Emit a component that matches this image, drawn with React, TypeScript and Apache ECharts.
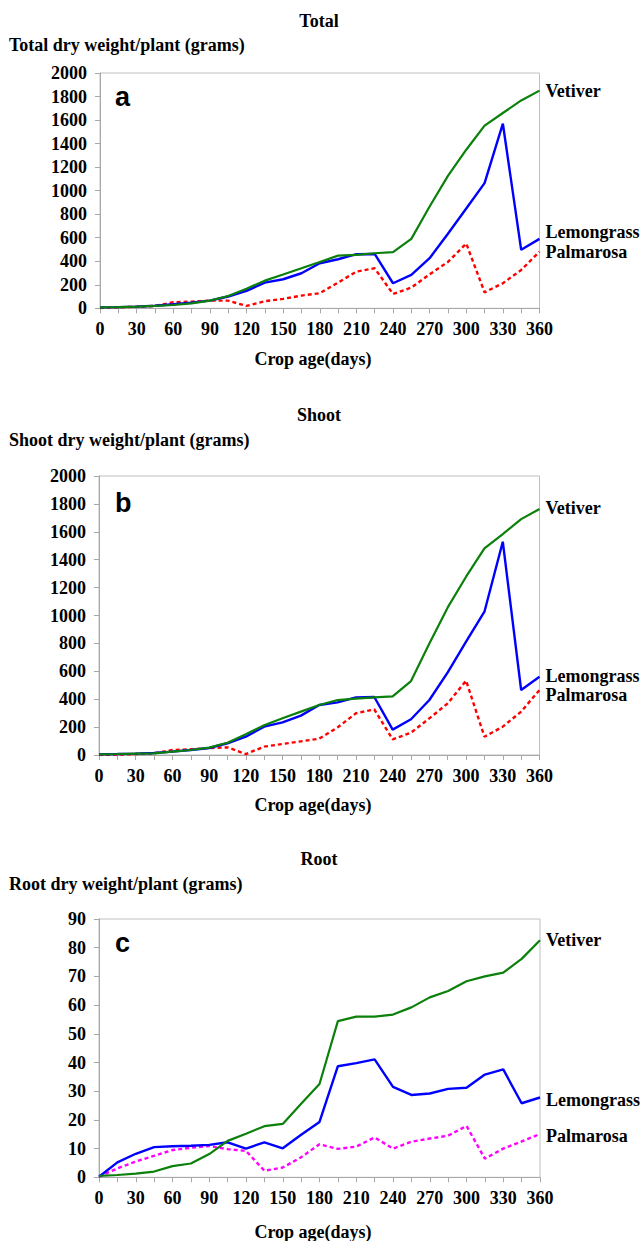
import React, { useEffect, useRef } from "react";
import * as echarts from "echarts";

const days = [0, 15, 30, 45, 60, 75, 90, 105, 120, 135, 150, 165, 180, 195, 210, 225, 240, 255, 270, 285, 300, 315, 330, 345, 360];

const totalVetiver = [8, 10, 14, 20, 28, 42, 65, 105, 167, 235, 287, 340, 394, 448, 454, 468, 477, 590, 865, 1126, 1348, 1552, 1660, 1767, 1850];
const totalLemongrass = [8, 10, 14, 22, 34, 48, 65, 100, 148, 218, 247, 298, 383, 417, 460, 462, 213, 284, 426, 633, 848, 1064, 1569, 497, 590];
const totalPalmarosa = [3, 8, 14, 20, 51, 57, 65, 65, 20, 60, 80, 108, 128, 218, 312, 340, 122, 176, 289, 394, 550, 136, 213, 326, 482];

const shootVetiver = [5, 7, 10, 12, 24, 36, 53, 88, 148, 213, 263, 311, 358, 394, 404, 413, 420, 530, 800, 1058, 1278, 1481, 1584, 1691, 1763];
const shootLemongrass = [5, 7, 10, 14, 24, 36, 50, 84, 131, 203, 234, 282, 358, 377, 413, 416, 182, 256, 394, 592, 812, 1027, 1529, 466, 561];
const shootPalmarosa = [0, 2, 7, 12, 36, 41, 50, 55, 7, 60, 79, 98, 117, 198, 299, 327, 112, 160, 263, 370, 533, 131, 203, 311, 466];

const rootVetiver = [0.5, 0.8, 1.3, 2.0, 3.9, 4.8, 8.1, 12.7, 15.2, 17.8, 18.6, 25.6, 32.5, 54.4, 56.0, 56.0, 56.7, 59.2, 62.7, 64.9, 68.3, 70.0, 71.3, 76.1, 82.6];
const rootLemongrass = [0.2, 5.2, 8.2, 10.5, 10.8, 11.0, 11.3, 12.2, 10.0, 12.2, 10.1, 14.8, 19.3, 38.7, 39.8, 41.1, 31.5, 28.7, 29.2, 30.8, 31.2, 35.8, 37.6, 25.8, 27.8];
const rootPalmarosa = [0.2, 3.1, 5.5, 7.5, 9.5, 10.3, 10.9, 9.8, 9.2, 2.3, 3.4, 7.0, 11.5, 9.9, 10.7, 13.9, 10.0, 12.4, 13.5, 14.5, 17.9, 6.5, 10.0, 12.5, 15.1];

const panelTitles = ["Total", "Shoot", "Root"];
const yNames = ["Total dry weight/plant (grams)", "Shoot dry weight/plant (grams)", "Root dry weight/plant (grams)"];
const panelLetters = ["a", "b", "c"];
const xName = "Crop age(days)";
const seriesNames = ["Vetiver", "Lemongrass", "Palmarosa"];

const SERIF = "Times New Roman";
const SANS = "Arial";
const FS = 18;

const GREEN = "#0b800b";
const BLUE = "#0000ff";
const RED = "#ff0000";
const MAGENTA = "#ff00ff";

const grids = [
  { left: 100, top: 73, width: 439.5, height: 235.3 },
  { left: 99, top: 476, width: 440.5, height: 279 },
  { left: 99, top: 919, width: 441, height: 258.3 },
];
const yMax = [2000, 2000, 90];
const yInterval = [200, 200, 10];
const titleY = [21, 415, 859];
const yNameY = [45, 440, 884];
const xNameY = [359, 805, 1232];
const letterY = [97, 503, 943];

export default function App() {
  const ref = useRef<HTMLDivElement>(null);
  useEffect(() => {
    document.body.style.margin = "0";
    const chart = echarts.init(ref.current!, null, { renderer: "svg" });
    const data = [
      [totalVetiver, totalLemongrass, totalPalmarosa],
      [shootVetiver, shootLemongrass, shootPalmarosa],
      [rootVetiver, rootLemongrass, rootPalmarosa],
    ];
    const labelDy = [
      [0, -7, 0],
      [-1, -1, 5],
      [0, 2, 2],
    ];
    const series: any[] = [];
    data.forEach((panel, pi) => {
      panel.forEach((vals, si) => {
        const color = si === 0 ? GREEN : si === 1 ? BLUE : pi === 2 ? MAGENTA : RED;
        series.push({
          type: "line",
          name: seriesNames[si],
          xAxisIndex: pi,
          yAxisIndex: pi,
          data: days.map((d, i) => [d, vals[i]]),
          showSymbol: false,
          symbol: "none",
          z: 3 - si,
          lineStyle: { color, width: si === 0 ? 2.2 : 2.4, type: si === 2 ? [4, 3] : "solid" },
          endLabel: {
            show: true,
            formatter: seriesNames[si],
            color: "#000",
            fontFamily: SERIF,
            fontWeight: "bold",
            fontSize: FS,
            lineHeight: 16,
            distance: 6,
            offset: [0, labelDy[pi][si]],
          },
        });
      });
    });
    const textStyle = (text: string, size: number, family: string, align: string) => ({
      text,
      fill: "#000",
      fontFamily: family,
      fontWeight: "bold",
      fontSize: size,
      textAlign: align,
      textVerticalAlign: "middle",
    });
    const graphics: any[] = [];
    for (let i = 0; i < 3; i++) {
      graphics.push({ type: "text", x: 319, y: titleY[i], style: textStyle(panelTitles[i], FS, SERIF, "center") });
      graphics.push({ type: "text", x: 9, y: yNameY[i], style: textStyle(yNames[i], FS, SERIF, "left") });
      graphics.push({ type: "text", x: 313, y: xNameY[i], style: textStyle(xName, FS, SERIF, "center") });
      graphics.push({ type: "text", x: 115, y: letterY[i], style: textStyle(panelLetters[i], 27, SANS, "left") });
    }
    chart.setOption({
      animation: false,
      textStyle: { fontFamily: SERIF },
      grid: grids.map((g) => ({ ...g, show: true, borderColor: "#c0c0c0", borderWidth: 1, containLabel: false })),
      xAxis: grids.map((_, i) => ({
        type: "value",
        gridIndex: i,
        min: 0,
        max: 360,
        interval: 15,
        axisLine: { show: true, lineStyle: { color: "#a8a8a8", width: 1 } },
        axisTick: { show: true, length: 5, lineStyle: { color: "#a8a8a8" } },
        splitLine: { show: false },
        axisLabel: {
          color: "#000",
          fontFamily: SERIF,
          fontWeight: "bold",
          fontSize: FS,
          margin: 12,
          formatter: (v: number) => (v % 30 === 0 ? String(v) : ""),
        },
      })),
      yAxis: grids.map((_, i) => ({
        type: "value",
        gridIndex: i,
        min: 0,
        max: yMax[i],
        interval: yInterval[i],
        axisLine: { show: true, lineStyle: { color: "#a8a8a8", width: 1 } },
        axisTick: { show: true, length: 5, lineStyle: { color: "#a8a8a8" } },
        splitLine: { show: false },
        axisLabel: {
          color: "#000",
          fontFamily: SERIF,
          fontWeight: "bold",
          fontSize: FS,
          margin: 13,
          formatter: (v: number) => String(v),
        },
      })),
      series,
      graphic: graphics,
    });
    return () => chart.dispose();
  }, []);
  return <div ref={ref} style={{ width: 644, height: 1241 }} />;
}
